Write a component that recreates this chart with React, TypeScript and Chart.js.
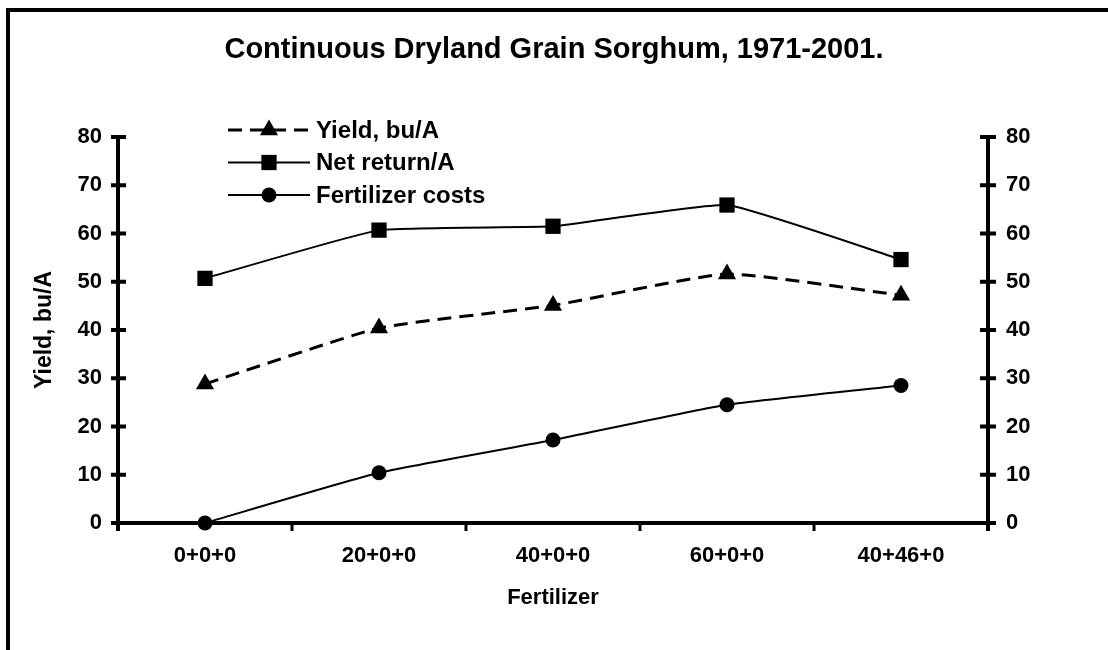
import { useEffect, useRef } from 'react';
import { Chart, registerables } from 'chart.js';
import { drawPoint } from 'chart.js/helpers';

Chart.register(...registerables);

const categories = ['0+0+0', '20+0+0', '40+0+0', '60+0+0', '40+46+0'];
const yieldValues = [28.8, 40.4, 45.1, 51.6, 47.2];
const netReturnValues = [50.7, 60.7, 61.5, 65.9, 54.6];
const fertilizerCostValues = [0, 10.4, 17.2, 24.5, 28.5];
const seriesNames = ['Yield, bu/A', 'Net return/A', 'Fertilizer costs'];
const yMin = 0;
const yMax = 80;
const yStep = 10;

const FONT = "'Liberation Sans', Arial, Helvetica, sans-serif";

const axesPlugin = {
  id: 'customAxes',
  beforeDatasetsDraw(chart: any) {
    const { ctx, chartArea, scales } = chart;
    const xs = scales.x;
    const ys = scales.y;
    const ys1 = scales.y1;
    const L = chartArea.left;
    const R = chartArea.right;
    const y0 = ys.getPixelForValue(yMin);
    const yTop = ys.getPixelForValue(yMax);
    ctx.save();
    ctx.strokeStyle = '#000';
    ctx.lineCap = 'butt';
    ctx.lineWidth = 4;
    ctx.beginPath();
    ctx.moveTo(L, yTop - 2);
    ctx.lineTo(L, y0 + 8);
    ctx.moveTo(R, yTop - 2);
    ctx.lineTo(R, y0 + 8);
    ctx.moveTo(L - 2, y0);
    ctx.lineTo(R + 2, y0);
    ctx.stroke();
    ctx.beginPath();
    ys.ticks.forEach((t: any) => {
      const py = ys.getPixelForValue(t.value);
      ctx.moveTo(L - 7, py);
      ctx.lineTo(L + 8, py);
    });
    ys1.ticks.forEach((t: any) => {
      const py = ys1.getPixelForValue(t.value);
      ctx.moveTo(R - 8, py);
      ctx.lineTo(R + 8, py);
    });
    ctx.stroke();
    ctx.lineWidth = 3;
    ctx.beginPath();
    for (let i = 0; i <= categories.length; i++) {
      const px = xs.getPixelForValue(i - 0.5);
      ctx.moveTo(px, y0);
      ctx.lineTo(px, y0 + 8);
    }
    ctx.stroke();
    ctx.restore();
  },
};

const legendPlugin = {
  id: 'insideLegend',
  afterDraw(chart: any) {
    const { ctx, chartArea } = chart;
    const x0 = chartArea.left + 110;
    const x1 = x0 + 82;
    const xm = (x0 + x1) / 2;
    const tx = x1 + 6;
    ctx.save();
    chart.data.datasets.forEach((ds: any, i: number) => {
      const yy = chartArea.top - 7 + i * 32.5;
      ctx.strokeStyle = '#000';
      ctx.fillStyle = '#000';
      ctx.lineWidth = ds.borderWidth;
      ctx.setLineDash(ds.borderDash || []);
      ctx.beginPath();
      ctx.moveTo(x0, yy);
      ctx.lineTo(x1, yy);
      ctx.stroke();
      ctx.setLineDash([]);
      drawPoint(ctx, { pointStyle: ds.pointStyle, rotation: 0, radius: ds.pointRadius, borderWidth: 0 } as any, xm, yy);
      ctx.font = `bold 24px ${FONT}`;
      ctx.textAlign = 'left';
      ctx.textBaseline = 'middle';
      ctx.fillText(ds.label, tx, yy + 1);
    });
    ctx.restore();
  },
};

export default function App() {
  const ref = useRef<HTMLCanvasElement | null>(null);

  useEffect(() => {
    if (!ref.current) return;
    Chart.defaults.font.family = FONT;
    Chart.defaults.color = '#000';
    const tickFont = { size: 22, weight: 'bold' as const, family: FONT };
    const chart = new Chart(ref.current, {
      type: 'line',
      data: {
        labels: categories,
        datasets: [
          {
            label: seriesNames[0],
            data: yieldValues,
            borderColor: '#000',
            backgroundColor: '#000',
            borderWidth: 3,
            borderDash: [14, 8],
            pointStyle: 'triangle',
            pointRadius: 10.5,
            pointBorderWidth: 0,
            pointBackgroundColor: '#000',
            tension: 0.15,
            clip: false as any,
          },
          {
            label: seriesNames[1],
            data: netReturnValues,
            borderColor: '#000',
            backgroundColor: '#000',
            borderWidth: 2,
            pointStyle: 'rect',
            pointRadius: 10.8,
            pointBorderWidth: 0,
            pointBackgroundColor: '#000',
            tension: 0.12,
            clip: false as any,
          },
          {
            label: seriesNames[2],
            data: fertilizerCostValues,
            borderColor: '#000',
            backgroundColor: '#000',
            borderWidth: 2,
            pointStyle: 'circle',
            pointRadius: 7.5,
            pointBorderWidth: 0,
            pointBackgroundColor: '#000',
            tension: 0.15,
            clip: false as any,
          },
        ],
      },
      options: {
        responsive: false,
        animation: false,
        events: [],
        layout: { padding: 0 },
        plugins: {
          legend: { display: false },
          tooltip: { enabled: false },
          title: {
            display: true,
            text: 'Continuous Dryland Grain Sorghum, 1971-2001.',
            color: '#000',
            font: { size: 29, weight: 'bold', family: FONT },
            padding: { top: 33, bottom: 69.2 },
          },
        },
        scales: {
          x: {
            type: 'category',
            offset: true,
            grid: { display: false, drawTicks: false, offset: true },
            border: { display: false },
            ticks: { font: tickFont, color: '#000', padding: 20, maxRotation: 0 },
            title: {
              display: true,
              text: 'Fertilizer',
              color: '#000',
              font: tickFont,
              padding: { top: 0, bottom: 39 },
            },
            afterFit: (s: any) => {
              s.height = 127;
            },
          },
          y: {
            position: 'left',
            min: yMin,
            max: yMax,
            grid: { display: false, drawTicks: false },
            border: { display: false },
            ticks: { stepSize: yStep, font: tickFont, color: '#000', padding: 16 },
            title: {
              display: true,
              text: 'Yield, bu/A',
              color: '#000',
              font: { size: 23, weight: 'bold', family: FONT },
              padding: { top: 31, bottom: 0 },
            },
            afterFit: (s: any) => {
              s.width = 118;
            },
          },
          y1: {
            position: 'right',
            min: yMin,
            max: yMax,
            grid: { display: false, drawTicks: false },
            border: { display: false },
            ticks: { stepSize: yStep, font: tickFont, color: '#000', padding: 18 },
            afterFit: (s: any) => {
              s.width = 120;
            },
          },
        },
      },
      plugins: [axesPlugin, legendPlugin],
    });
    return () => chart.destroy();
  }, []);

  return (
    <>
      <div
        style={{
          position: 'fixed',
          left: 6,
          top: 8,
          width: 1102,
          height: 642,
          boxSizing: 'border-box',
          borderTop: '4px solid #000',
          borderLeft: '4px solid #000',
        }}
      />
      <canvas
        ref={ref}
        width={1108}
        height={650}
        style={{ position: 'fixed', left: 0, top: 0, width: 1108, height: 650 }}
      />
    </>
  );
}
